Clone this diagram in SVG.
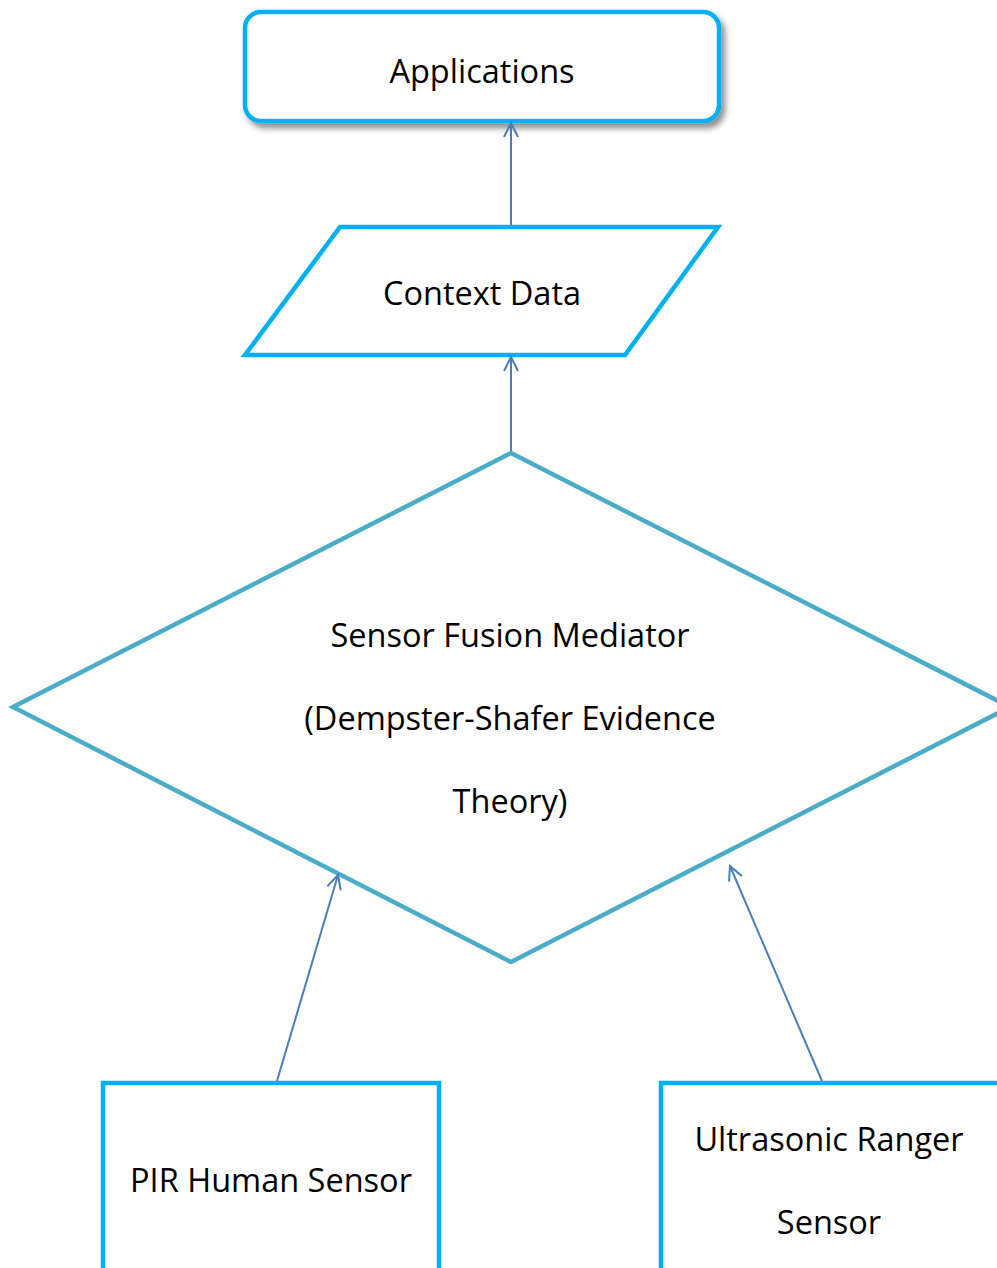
<svg xmlns="http://www.w3.org/2000/svg" width="997" height="1268" viewBox="0 0 997 1268">
  <style>
    .box { fill: #ffffff; stroke: #00B0F0; stroke-width: 4.5; stroke-linejoin: miter; }
    .dec { fill: #ffffff; stroke: #4BACC6; stroke-width: 4.5; stroke-linejoin: miter; }
    .lbl { font-family: "Open Sans", "Liberation Sans", sans-serif; font-size: 32.5px; fill: #000000; text-anchor: middle; }
    .conn { stroke: #4A7EBB; stroke-width: 2; fill: none; marker-end: url(#open); }
  </style>
  <defs>
    <marker id="open" viewBox="0 0 20 20" refX="18" refY="10" markerWidth="20" markerHeight="20" markerUnits="userSpaceOnUse" orient="auto">
      <path d="M4,3 L18,10 L4,17" fill="none" stroke="#4A7EBB" stroke-width="2"/>
    </marker>
    <filter id="shadow" x="-10%" y="-20%" width="120%" height="150%">
      <feGaussianBlur in="SourceAlpha" stdDeviation="3"/>
      <feOffset dx="4" dy="5" result="b"/>
      <feComponentTransfer><feFuncA type="linear" slope="0.45"/></feComponentTransfer>
      <feMerge><feMergeNode/><feMergeNode in="SourceGraphic"/></feMerge>
    </filter>
  </defs>
  <rect width="997" height="1268" fill="#ffffff"/>

  <g id="applications">
    <rect class="box" x="245" y="12" width="474" height="109" rx="16" stroke-linejoin="round" filter="url(#shadow)"/>
    <text class="lbl" x="482" y="83">Applications</text>
  </g>

  <g id="context-data">
    <polygon class="box" points="340,227 718,227 625,355 245,355"/>
    <text class="lbl" x="482" y="305">Context Data</text>
  </g>

  <g id="fusion-mediator">
    <polygon class="dec" points="511,453 1010,707 511,962 13,707"/>
    <text class="lbl" x="510" y="647">Sensor Fusion Mediator</text>
    <text class="lbl" x="510" y="730">(Dempster-Shafer Evidence</text>
    <text class="lbl" x="510" y="813">Theory)</text>
  </g>

  <g id="pir-sensor">
    <rect class="box" x="103" y="1083" width="336" height="220"/>
    <text class="lbl" x="271" y="1192">PIR Human Sensor</text>
  </g>

  <g id="ultrasonic-sensor">
    <rect class="box" x="661" y="1083" width="360" height="220"/>
    <text class="lbl" x="829" y="1151">Ultrasonic Ranger</text>
    <text class="lbl" x="829" y="1234">Sensor</text>
  </g>

  <g id="connectors">
    <line class="conn" x1="511" y1="225" x2="511" y2="123"/>
    <line class="conn" x1="511" y1="451" x2="511" y2="357"/>
    <line class="conn" x1="277" y1="1081" x2="338" y2="875"/>
    <line class="conn" x1="822" y1="1081" x2="730" y2="866"/>
  </g>
</svg>
